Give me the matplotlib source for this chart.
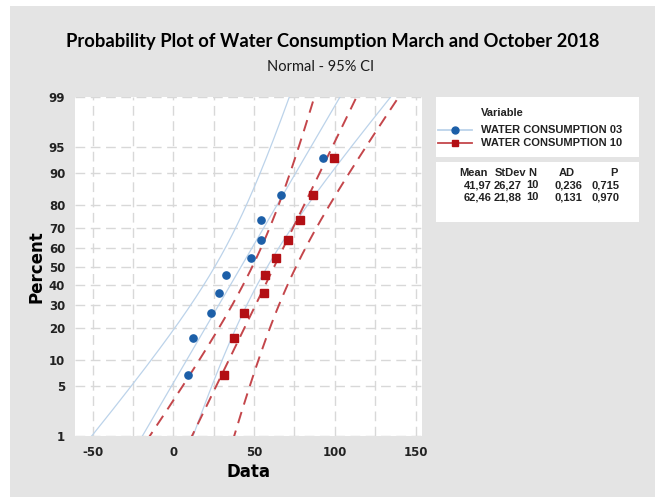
import numpy as np
import matplotlib
matplotlib.use('Agg')
import matplotlib.pyplot as plt
from matplotlib.patches import Rectangle
from matplotlib.lines import Line2D
from statistics import NormalDist

plt.rcParams['axes.unicode_minus'] = False

# data
water_03 = [9.3, 11.9, 23.0, 28.0, 32.3, 48.1, 54.5, 54.5, 66.9, 92.8]
water_10 = [31.3, 37.7, 43.8, 56.2, 56.6, 63.8, 71.0, 78.4, 86.6, 99.2]
series_names = ['WATER CONSUMPTION 03', 'WATER CONSUMPTION 10']
means = [41.97, 62.46]
stdevs = [26.27, 21.88]
ns = [10, 10]
ads = ['0,236', '0,131']
ps = ['0,715', '0,970']
pct_ticks = [1, 5, 10, 20, 30, 40, 50, 60, 70, 80, 90, 95, 99]
x_ticks = [-50, 0, 50, 100, 150]

W, H = 657, 497
nd = NormalDist()
_ppf = np.vectorize(lambda p: nd.inv_cdf(min(max(p, 1e-6), 100 - 1e-6) / 100.0), otypes=[float])
_cdf = np.vectorize(lambda z: nd.cdf(z) * 100.0, otypes=[float])


def fx(px):
    return px / W


def fy(py):
    return 1 - py / H


fig = plt.figure(figsize=(W / 100, H / 100), dpi=100)
fig.patch.set_facecolor('white')
fig.patches.append(Rectangle((fx(10), 0), fx(645), fy(6), transform=fig.transFigure,
                             facecolor='#e4e4e4', edgecolor='none', zorder=-10))

ax = fig.add_axes([fx(75), fy(436), fx(347), fy(97) - fy(436)])
ax.set_facecolor('white')
ax.set_yscale('function', functions=(_ppf, _cdf))

blue_line = '#bcd3ea'
blue_mark = '#1c5fa8'
red_line = '#c4464b'
red_mark = '#b30f14'

pp = np.linspace(0.8, 99.2, 300)
zz = _ppf(pp)
for data, m, s, n, lc, mc, mk, ls in [
        (water_03, means[0], stdevs[0], ns[0], blue_line, blue_mark, 'o', '-'),
        (water_10, means[1], stdevs[1], ns[1], red_line, red_mark, 's', '--')]:
    fit = m + s * zz
    half = 1.96 * np.sqrt(s ** 2 / n * (1 + zz ** 2 / 2))
    for curve in (fit, fit - half, fit + half):
        if ls == '--':
            ax.plot(curve, pp, color=lc, lw=1.4, ls=(0, (6, 4)), zorder=2)
        else:
            ax.plot(curve, pp, color=lc, lw=0.9, zorder=2)
    ranks = (np.arange(1, len(data) + 1) - 0.3) / (len(data) + 0.4) * 100
    ax.plot(sorted(data), ranks, ls='none', marker=mk, ms=5.2 if mk == 'o' else 5.6,
            color=mc, zorder=3)

ax.set_xlim(-61, 154)
ax.set_ylim(0.99, 99.01)
ax.set_xticks(x_ticks)
ax.set_xticks(np.arange(-50, 151, 25), minor=True)
ax.set_yticks(pct_ticks)
ax.set_yticklabels([str(p) for p in pct_ticks])
ax.yaxis.set_minor_locator(plt.NullLocator())
ax.grid(True, which='both', axis='x', color='#d8d8d8', ls=(0, (7, 4)), lw=1)
ax.grid(True, which='major', axis='y', color='#d8d8d8', ls=(0, (7, 4)), lw=1)
ax.tick_params(which='both', length=0, labelsize=8.5, colors='#222222', pad=7)
for lab in ax.get_xticklabels() + ax.get_yticklabels():
    lab.set_fontweight('bold')
for sp in ax.spines.values():
    sp.set_visible(False)
ax.set_xlabel('Data', fontsize=12, fontweight='bold', labelpad=3)
ax.set_ylabel('Percent', fontsize=12, fontweight='bold', labelpad=2)

fig.text(fx(333), fy(42), 'Probability Plot of Water Consumption March and October 2018',
         ha='center', va='center', fontsize=13.2, fontweight='bold', family='Lato')
fig.text(fx(321), fy(67), 'Normal - 95% CI', ha='center', va='center',
         fontsize=10.5, family='Lato', color='#1a1a1a')

# legend boxes
fig.patches.append(Rectangle((fx(436), fy(157)), fx(203), fy(97) - fy(157),
                             transform=fig.transFigure, facecolor='white', edgecolor='none'))
fig.patches.append(Rectangle((fx(436), fy(222)), fx(203), fy(162) - fy(222),
                             transform=fig.transFigure, facecolor='white', edgecolor='none'))
lf = dict(fontsize=8, fontweight='bold', family='Liberation Sans', color='#222222', va='center')
fig.text(fx(481), fy(113), 'Variable', ha='left', **lf)
for i, (name, lc, mc, mk) in enumerate([(series_names[0], blue_line, blue_mark, 'o'),
                                         (series_names[1], red_line, red_mark, 's')]):
    yy = fy(130 + 13 * i)
    fig.lines.append(Line2D([fx(438), fx(472)], [yy, yy], transform=fig.transFigure,
                            color=lc, lw=1.3))
    fig.lines.append(Line2D([fx(455)], [yy], transform=fig.transFigure, ls='none',
                            marker=mk, ms=5, color=mc))
    fig.text(fx(481), yy, name, ha='left', **lf)

hdr_x = [474, 511, 532, 567, 614]
col_x = [492, 522, 539, 582, 620]
for hx, h in zip(hdr_x, ['Mean', 'StDev', 'N', 'AD', 'P']):
    fig.text(fx(hx), fy(173), h, ha='center', **lf)
for r in range(2):
    vals = [f'{means[r]:.2f}'.replace('.', ','), f'{stdevs[r]:.2f}'.replace('.', ','),
            str(ns[r]), ads[r], ps[r]]
    for cx, v in zip(col_x, vals):
        fig.text(fx(cx), fy(185 + 12.5 * r), v, ha='right', **lf)

fig.savefig('out.png', dpi=100)
